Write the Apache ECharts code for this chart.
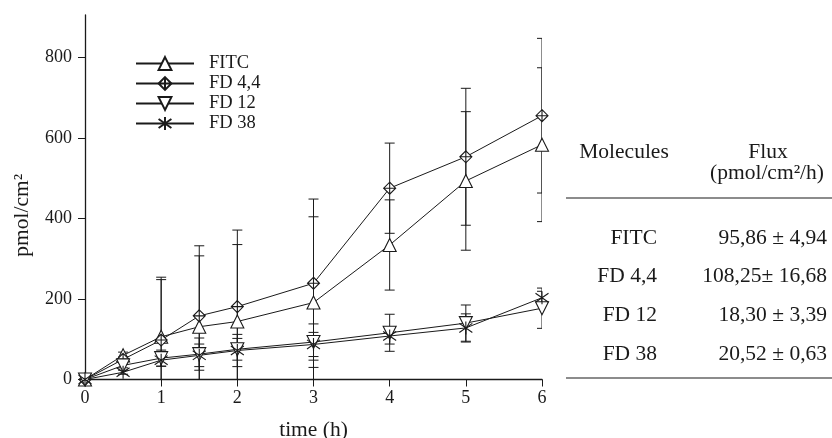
<!DOCTYPE html>
<html>
<head>
<meta charset="utf-8">
<script src="https://cdn.jsdelivr.net/npm/echarts@6/dist/echarts.min.js"></script>
<style>
  html, body { margin: 0; padding: 0; background: #fff; }
  #chart { width: 832px; height: 438px; }
</style>
</head>
<body>
<div id="chart"></div>
<script>
// time points (h)
const times = [0, 0.5, 1, 1.5, 2, 3, 4, 5, 6];

// mean cumulative amount (pmol/cm2) and SD
const fitc = [0, 60, 106, 131, 144, 191, 334, 493, 583];
const fitcErr = [0, 8, 148, 176, 191, 213, 112, 172, 191];
const fd44 = [0, 50, 98, 158, 181, 239, 475, 553, 655];
const fd44Err = [0, 6, 150, 174, 190, 209, 112, 170, 192];
const fd12 = [0, 35, 53, 63, 75, 93, 116, 140, 177];
const fd12Err = [0, 6, 20, 40, 27, 45, 46, 45, 50];
const fd38 = [0, 18, 48, 60, 72, 87, 108, 128, 203];
const fd38Err = [0, 5, 15, 28, 40, 30, 20, 35, 16];

const yTicks = [0, 200, 400, 600, 800];

// flux table
const molecules = ["FITC", "FD 4,4", "FD 12", "FD 38"];
const fluxes = ["95,86 ± 4,94", "108,25± 16,68", "18,30 ± 3,39", "20,52 ± 0,63"];

const SERIF = "'Liberation Serif', 'DejaVu Serif', serif";
const INK = "#1a1a1a";
const TFONT = "21.5px " + SERIF;

const DIAMOND = "path://M5,0 L10,5 L5,10 L0,5 Z M5,0 L5,10 M0,5 L10,5";
const STAR = "path://M5,0 L5,10 M1,1.5 L9,8.5 M9,1.5 L1,8.5";

function pairs(vals) { return times.map((t, i) => [t, vals[i]]); }
function errData(vals, errs) { return times.map((t, i) => [t, vals[i] - errs[i], vals[i] + errs[i]]); }

function errRender(params, api) {
  const x = api.value(0);
  const lo = api.coord([x, api.value(1)]);
  const hi = api.coord([x, api.value(2)]);
  const w = 5;
  const st = { stroke: INK, lineWidth: 1 };
  return {
    type: "group",
    children: [
      { type: "line", shape: { x1: lo[0], y1: lo[1], x2: hi[0], y2: hi[1] }, style: st },
      { type: "line", shape: { x1: hi[0] - w, y1: hi[1], x2: hi[0] + w, y2: hi[1] }, style: st },
      { type: "line", shape: { x1: lo[0] - w, y1: lo[1], x2: lo[0] + w, y2: lo[1] }, style: st },
    ],
  };
}

function lineSeries(name, vals, symbol, rotate, size) {
  return {
    name, type: "line", data: pairs(vals), z: 3,
    symbol, symbolSize: size, symbolRotate: rotate || 0, showAllSymbol: true,
    lineStyle: { color: INK, width: 1 },
    itemStyle: { color: "#fff", borderColor: INK, borderWidth: 1.1 },
    emphasis: { disabled: true },
  };
}

function errSeries(vals, errs) {
  return {
    type: "custom", data: errData(vals, errs), renderItem: errRender,
    clip: true, z: 2, silent: true,
  };
}

const tableGraphics = [];
tableGraphics.push(
  { type: "text", x: 624, y: 152, style: { text: "Molecules", font: TFONT, fill: INK, textAlign: "center", textVerticalAlign: "middle" } },
  { type: "text", x: 768, y: 152, style: { text: "Flux", font: TFONT, fill: INK, textAlign: "center", textVerticalAlign: "middle" } },
  { type: "text", x: 767, y: 173, style: { text: "(pmol/cm²/h)", font: TFONT, fill: INK, textAlign: "center", textVerticalAlign: "middle" } },
  { type: "line", shape: { x1: 566, y1: 198, x2: 832, y2: 198 }, style: { stroke: INK, lineWidth: 1.2 } },
  { type: "line", shape: { x1: 566, y1: 378, x2: 832, y2: 378 }, style: { stroke: INK, lineWidth: 1.2 } }
);
molecules.forEach((m, i) => {
  const y = 238 + i * 38.7;
  tableGraphics.push(
    { type: "text", x: 657, y, style: { text: m, font: TFONT, fill: INK, textAlign: "right", textVerticalAlign: "middle" } },
    { type: "text", x: 827, y, style: { text: fluxes[i], font: TFONT, fill: INK, textAlign: "right", textVerticalAlign: "middle" } }
  );
});

const chart = echarts.init(document.getElementById("chart"), null, { renderer: "canvas" });
chart.setOption({
  backgroundColor: "#fff",
  animation: false,
  grid: { left: 85, right: 290, top: 15, bottom: 58.5, outerBoundsMode: "none", containLabel: false },
  legend: {
    orient: "vertical", left: 135, top: 54, padding: 0,
    itemWidth: 58, itemHeight: 16, itemGap: 1,
    textStyle: { fontFamily: SERIF, fontSize: 18.5, color: INK, lineHeight: 16, padding: [0, 0, 0, 10] },
    data: ["FITC", "FD 4,4", "FD 12", "FD 38"],
    selectedMode: false,
  },
  xAxis: {
    type: "value", min: 0, max: 6, interval: 1,
    name: "time (h)", nameLocation: "middle", nameGap: 40,
    nameTextStyle: { fontFamily: SERIF, fontSize: 21.5, color: INK },
    axisLine: { lineStyle: { color: INK, width: 1.3 } },
    axisTick: { length: 7, lineStyle: { color: INK } },
    axisLabel: { fontFamily: SERIF, fontSize: 18, color: INK, margin: 10 },
    splitLine: { show: false },
  },
  yAxis: {
    type: "value", min: 0, max: 905,
    name: "pmol/cm²", nameLocation: "middle", nameGap: 52, nameRotate: 90,
    nameTextStyle: { fontFamily: SERIF, fontSize: 21.5, color: INK, padding: [0, 36, 0, 0] },
    axisLine: { show: true, lineStyle: { color: INK, width: 1.3 } },
    axisTick: { show: true, length: 7, lineStyle: { color: INK }, customValues: yTicks },
    axisLabel: { fontFamily: SERIF, fontSize: 18, color: INK, margin: 13, customValues: yTicks },
    splitLine: { show: false },
  },
  series: [
    errSeries(fitc, fitcErr),
    errSeries(fd44, fd44Err),
    errSeries(fd12, fd12Err),
    errSeries(fd38, fd38Err),
    lineSeries("FITC", fitc, "triangle", 0, 13),
    lineSeries("FD 4,4", fd44, DIAMOND, 0, 12),
    lineSeries("FD 12", fd12, "triangle", 180, 13),
    lineSeries("FD 38", fd38, STAR, 0, 13),
  ],
  graphic: tableGraphics,
});
</script>
</body>
</html>
